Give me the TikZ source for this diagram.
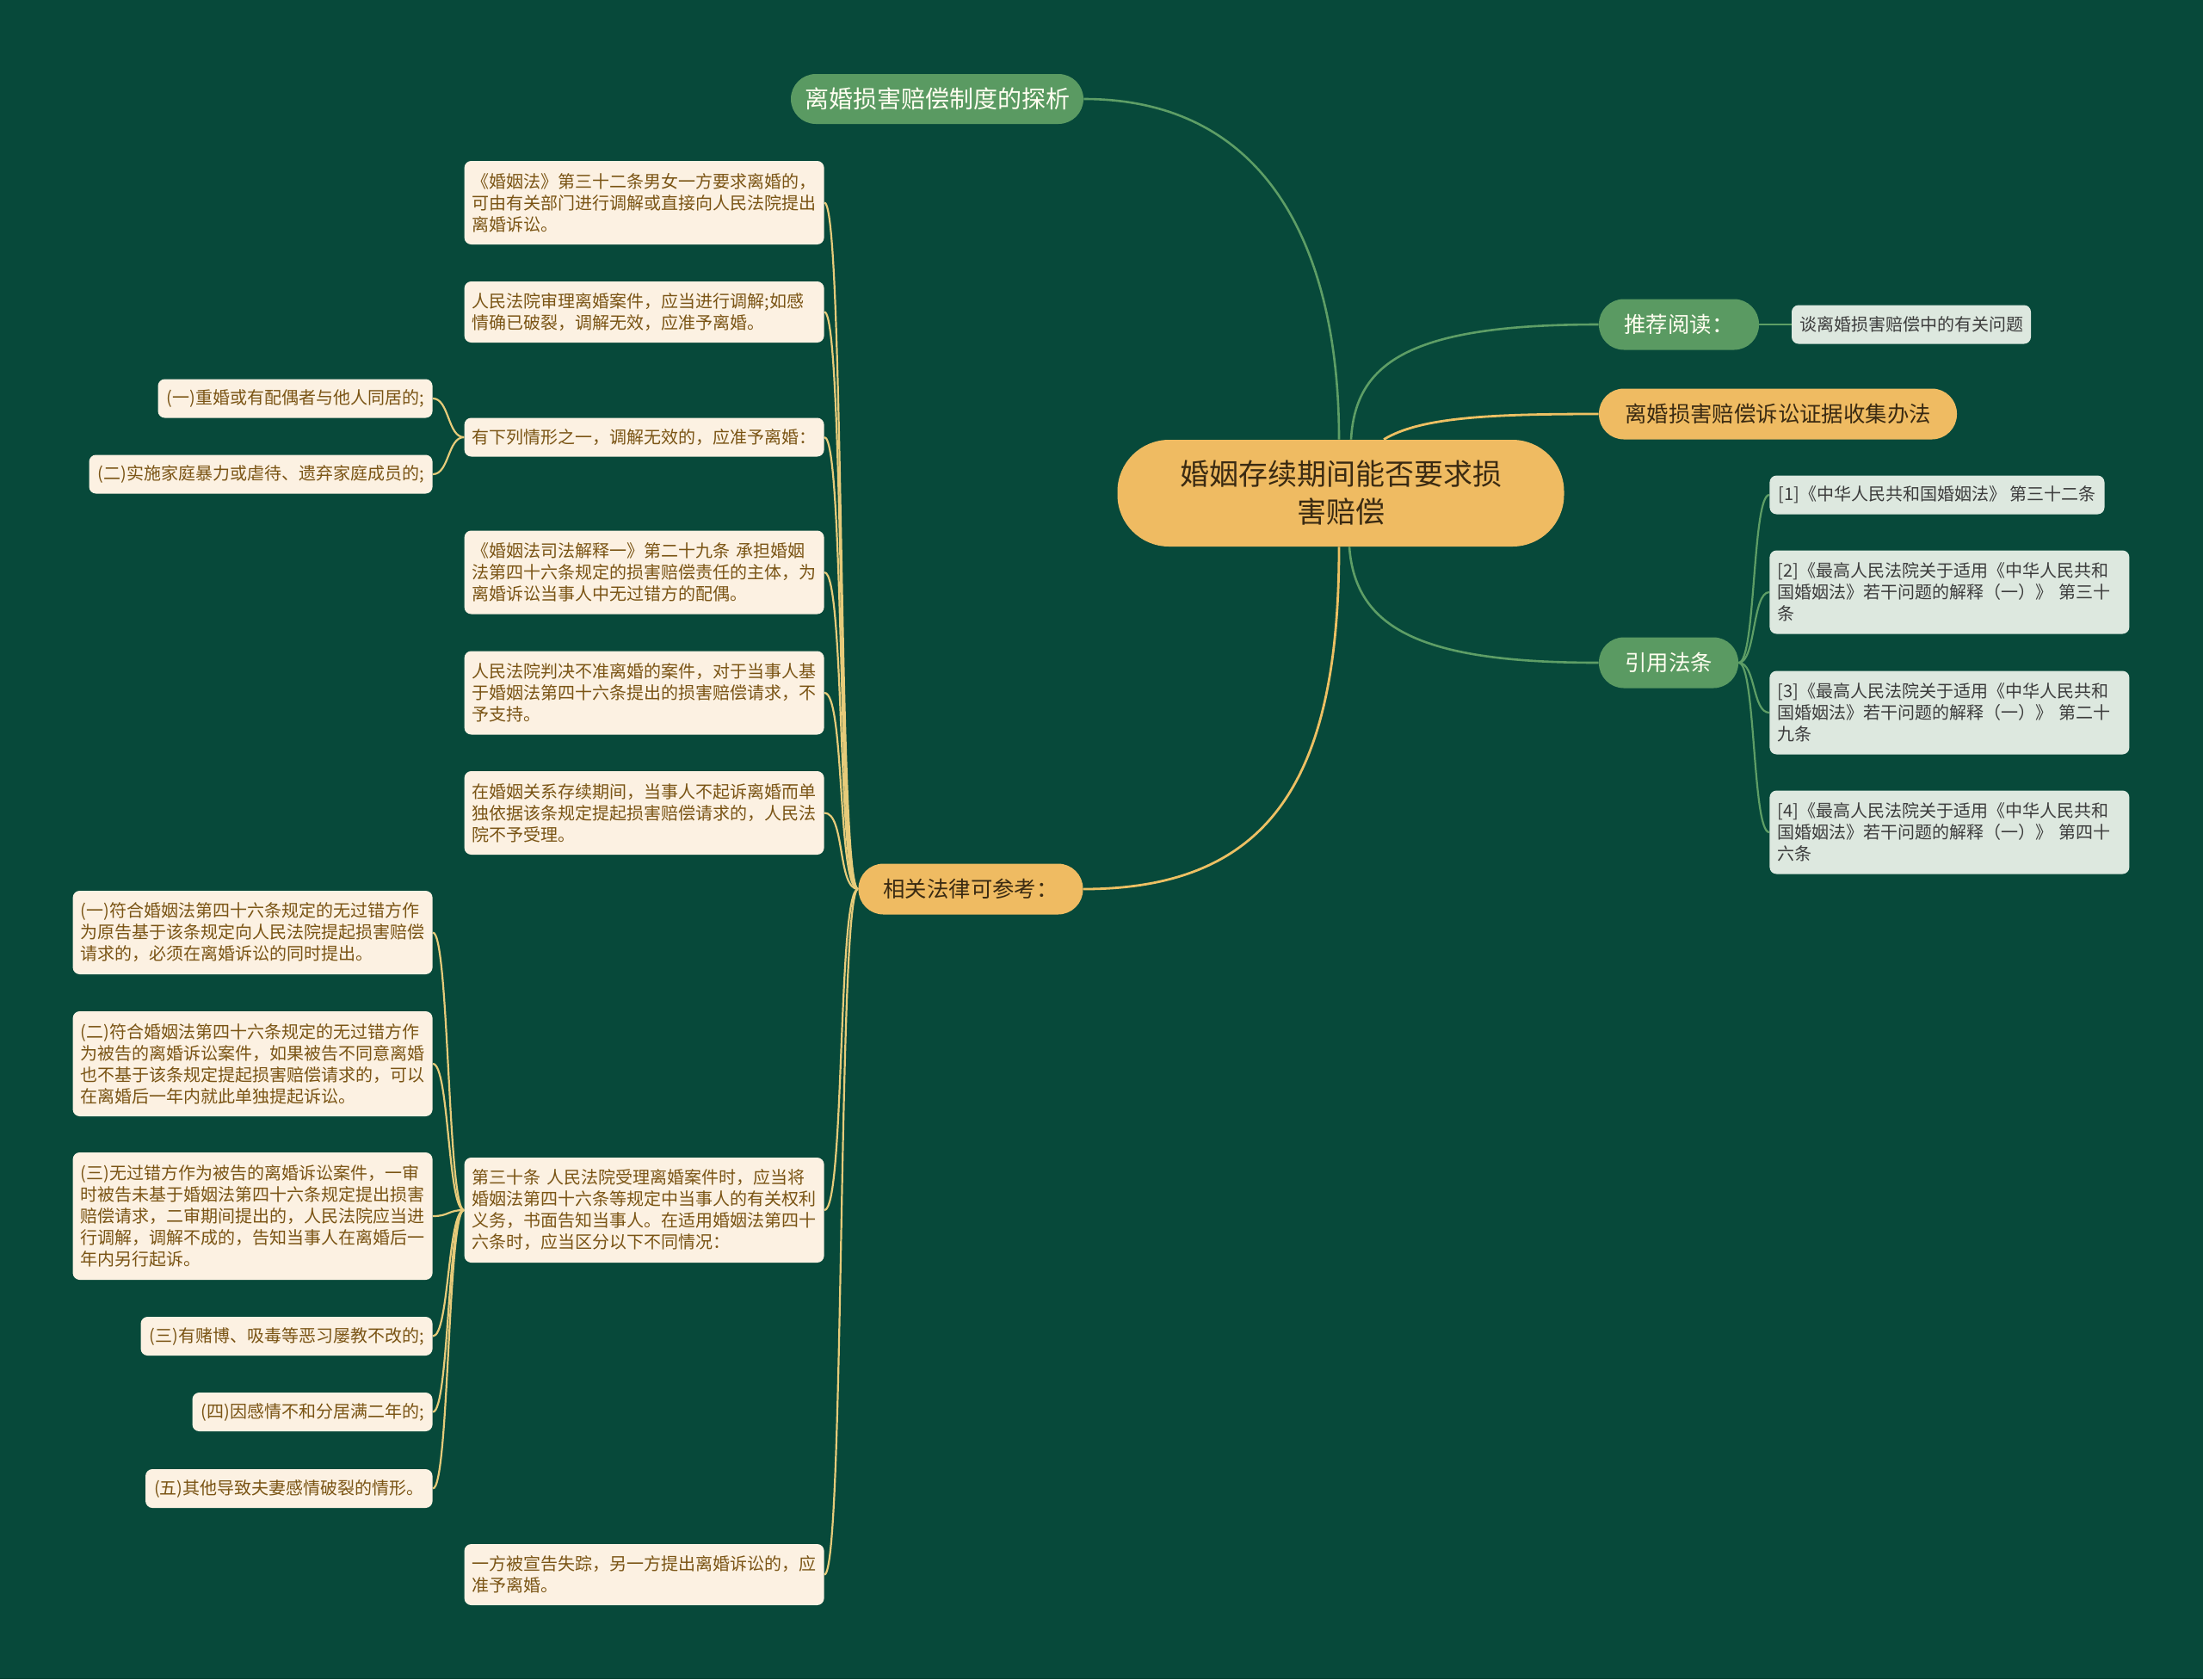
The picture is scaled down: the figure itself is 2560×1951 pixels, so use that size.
\documentclass[tikz,border=0pt]{standalone}
\usepackage{fontspec}
\setmainfont{Noto Sans CJK SC}
\definecolor{bg}{HTML}{07493A}
\definecolor{orangefill}{HTML}{EFBB62}
\definecolor{greenfill}{HTML}{5A9A62}
\definecolor{cream}{HTML}{FCF1E2}
\definecolor{leaftext}{HTML}{7A5414}
\definecolor{litegreen}{HTML}{DDE8DF}
\definecolor{litetext}{HTML}{3C3C3C}
\definecolor{darktext}{HTML}{3A2A12}
\definecolor{gline}{HTML}{5E9E66}
\definecolor{yline}{HTML}{EDC063}
\definecolor{lline}{HTML}{E6CB7A}
\pgfdeclarelayer{background}
\pgfsetlayers{background,main}
\begin{document}
\begin{tikzpicture}[x=0.5pt,y=-0.5pt,
  leaf/.style={fill=cream,text=leaftext,rounded corners=4pt,font=\fontsize{10}{12.5}\selectfont,align=left,inner xsep=5pt,inner ysep=0pt},
  wide/.style={text width=200pt,inner xsep=4.5pt},
  lite/.style={leaf,fill=litegreen,text=litetext},
  nA/.style={minimum height=22.5pt},
  nB/.style={minimum height=35.5pt},
  nC/.style={minimum height=48.5pt},
  nD/.style={minimum height=61pt},
  nE/.style={minimum height=74pt},
  pillo/.style={fill=orangefill,text=darktext,rounded corners=14.5pt,minimum height=29.5pt,font=\fontsize{12.7}{15}\selectfont,inner sep=0pt},
  pillg/.style={pillo,fill=greenfill,text=white!94!yellow},
  gconn/.style={draw=gline,line width=1.3pt},
  yconn/.style={draw=yline,line width=1.4pt},
  lconn/.style={draw=lline,line width=1.1pt},
  gleaf/.style={draw=gline,line width=1.1pt}
]
\useasboundingbox (0,0) rectangle (2560,1951);
\begin{pgfonlayer}{background}
\fill[bg] (0,0) rectangle (2560,1951);
\end{pgfonlayer}

% ---------- nodes ----------
\node[fill=orangefill,text=darktext,rounded corners=30pt,minimum width=259.5pt,minimum height=62pt,
      font=\fontsize{17}{22}\selectfont,align=center,inner sep=0pt] (root) at (1558,573)
      {婚姻存续期间能否要求损\\害赔偿};

\node[pillg,minimum width=170pt,minimum height=29pt,font=\fontsize{14}{16}\selectfont] (tanxi) at (1089,115) {离婚损害赔偿制度的探析};
\node[pillg,minimum width=93pt] (tuijian) at (1951,377) {推荐阅读：};
\node[lite,nA,inner xsep=4.5pt] (tan) at (2221,377) {谈离婚损害赔偿中的有关问题};
\node[pillo,minimum width=208pt] (zhengju) at (2066,481) {离婚损害赔偿诉讼证据收集办法};
\node[pillg,minimum width=81pt] (yinyong) at (1939,770) {引用法条};
\node[pillo,minimum width=130.5pt] (falv) at (1128,1033) {相关法律可参考：};

% right references
\node[lite,nA,anchor=west] (r1) at (2056,575) {[1]《中华人民共和国婚姻法》 第三十二条};
\node[lite,wide,nC,anchor=west] (r2) at (2056,688) {[2]《最高人民法院关于适用《中华人民共和\\国婚姻法》若干问题的解释（一）》 第三十\\条};
\node[lite,wide,nC,anchor=west] (r3) at (2056,828) {[3]《最高人民法院关于适用《中华人民共和\\国婚姻法》若干问题的解释（一）》 第二十\\九条};
\node[lite,wide,nC,anchor=west] (r4) at (2056,967) {[4]《最高人民法院关于适用《中华人民共和\\国婚姻法》若干问题的解释（一）》 第四十\\六条};

% left leaves
\node[leaf,wide,nC,anchor=east] (a1) at (958,235.5) {《婚姻法》第三十二条男女一方要求离婚的，\\可由有关部门进行调解或直接向人民法院提出\\离婚诉讼。};
\node[leaf,wide,nB,anchor=east] (a2) at (958,362.5) {人民法院审理离婚案件，应当进行调解;如感\\情确已破裂，调解无效，应准予离婚。};
\node[leaf,wide,nA,anchor=east] (a3) at (958,508) {有下列情形之一，调解无效的，应准予离婚：};
\node[leaf,wide,nC,anchor=east] (a4) at (958,665) {《婚姻法司法解释一》第二十九条 承担婚姻\\法第四十六条规定的损害赔偿责任的主体，为\\离婚诉讼当事人中无过错方的配偶。};
\node[leaf,wide,nC,anchor=east] (a5) at (958,805) {人民法院判决不准离婚的案件，对于当事人基\\于婚姻法第四十六条提出的损害赔偿请求，不\\予支持。};
\node[leaf,wide,nC,anchor=east] (a6) at (958,944.5) {在婚姻关系存续期间，当事人不起诉离婚而单\\独依据该条规定提起损害赔偿请求的，人民法\\院不予受理。};
\node[leaf,wide,nD,anchor=east] (a7) at (958,1406) {第三十条 人民法院受理离婚案件时，应当将\\婚姻法第四十六条等规定中当事人的有关权利\\义务，书面告知当事人。在适用婚姻法第四十\\六条时，应当区分以下不同情况：};
\node[leaf,wide,nB,anchor=east] (a8) at (958,1829.5) {一方被宣告失踪，另一方提出离婚诉讼的，应\\准予离婚。};

\node[leaf,nA,anchor=east] (b1) at (503,463) {(一)重婚或有配偶者与他人同居的;};
\node[leaf,nA,anchor=east] (b2) at (503,551) {(二)实施家庭暴力或虐待、遗弃家庭成员的;};

\node[leaf,wide,nC,anchor=east] (c1) at (503,1083.5) {(一)符合婚姻法第四十六条规定的无过错方作\\为原告基于该条规定向人民法院提起损害赔偿\\请求的，必须在离婚诉讼的同时提出。};
\node[leaf,wide,nD,anchor=east] (c2) at (503,1236) {(二)符合婚姻法第四十六条规定的无过错方作\\为被告的离婚诉讼案件，如果被告不同意离婚\\也不基于该条规定提起损害赔偿请求的，可以\\在离婚后一年内就此单独提起诉讼。};
\node[leaf,wide,nE,anchor=east] (c3) at (503,1413) {(三)无过错方作为被告的离婚诉讼案件，一审\\时被告未基于婚姻法第四十六条规定提出损害\\赔偿请求，二审期间提出的，人民法院应当进\\行调解，调解不成的，告知当事人在离婚后一\\年内另行起诉。};
\node[leaf,nA,anchor=east] (c4) at (503,1552.5) {(三)有赌博、吸毒等恶习屡教不改的;};
\node[leaf,nA,anchor=east] (c5) at (503,1640.5) {(四)因感情不和分居满二年的;};
\node[leaf,nA,anchor=east] (c6) at (503,1729.5) {(五)其他导致夫妻感情破裂的情形。};

% ---------- connectors (behind nodes) ----------
\begin{pgfonlayer}{background}
\draw[gconn] ([xshift=-1pt]root.north) .. controls (1556,300) and (1480,115) .. (tanxi.east);
\draw[gconn] ([xshift=6pt]root.north) .. controls (1575,420) and (1640,377) .. (tuijian.west);
\draw[yconn] ([xshift=25pt]root.north) .. controls (1650,485) and (1730,481) .. (zhengju.west);
\draw[gconn] ([xshift=5pt]root.south) .. controls (1575,730) and (1650,770) .. (yinyong.west);
\draw[yconn] ([xshift=-1pt]root.south) .. controls (1556,900) and (1480,1033) .. (falv.east);
\draw[gleaf] (tuijian.east) -- (tan.west);
\foreach \c in {r1,r2,r3,r4}
  \draw[gleaf] (yinyong.east) .. controls +(20,0) and +(-20,0) .. (\c.west);
\foreach \c in {a1,a2,a3,a4,a5,a6,a7,a8}
  \draw[lconn] (falv.west) .. controls +(-24,0) and +(24,0) .. (\c.east);
\foreach \c in {b1,b2}
  \draw[lconn] (a3.west) .. controls +(-19,0) and +(19,0) .. (\c.east);
\foreach \c in {c1,c2,c3,c4,c5,c6}
  \draw[lconn] (a7.west) .. controls +(-19,0) and +(19,0) .. (\c.east);
\end{pgfonlayer}

\end{tikzpicture}
\end{document}
